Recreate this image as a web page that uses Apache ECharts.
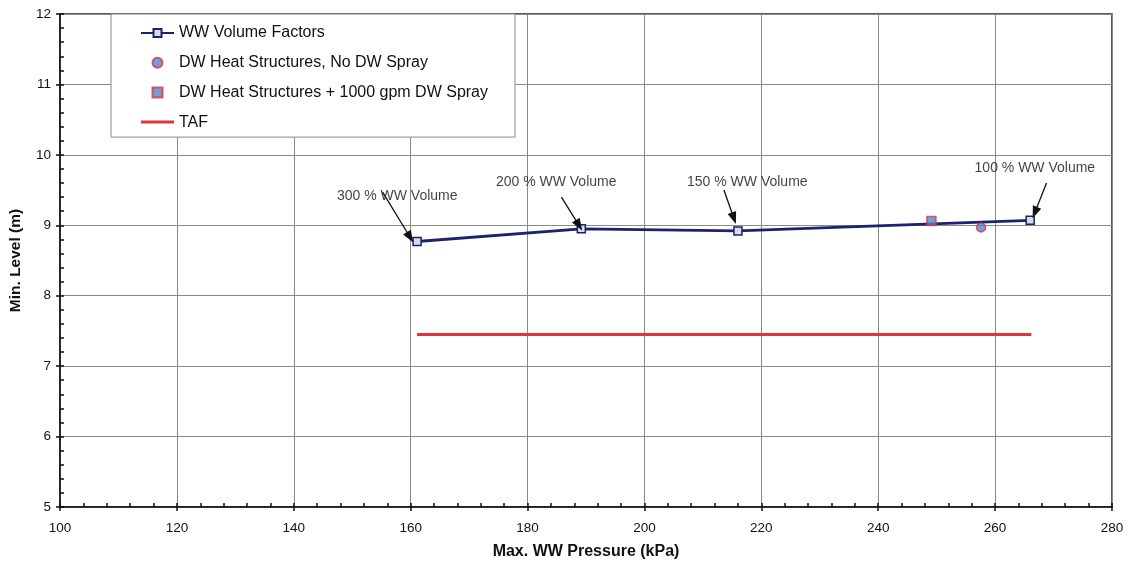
<!DOCTYPE html>
<html>
<head>
<meta charset="utf-8">
<script src="https://cdn.jsdelivr.net/npm/echarts@6/dist/echarts.min.js"></script>
<style>
  html, body { margin: 0; padding: 0; background: #fff; }
  #chart { width: 1128px; height: 566px; }
</style>
</head>
<body>
<div id="chart"></div>
<script>
// values
const wwPressure = [161.1, 189.2, 216.0, 266.0];
const wwLevel = [8.77, 8.95, 8.92, 9.07];
const noSprayPressure = [257.6];
const noSprayLevel = [8.97];
const sprayPressure = [249.1];
const sprayLevel = [9.06];
const tafPressure = [161.1, 266.2];
const tafLevel = [7.45, 7.45];

// annotations: text anchor and arrow (tail -> head), in data units
const noteText = ['300 % WW Volume', '200 % WW Volume', '150 % WW Volume', '100 % WW Volume'];
const noteX = [157.7, 184.9, 217.6, 266.8];
const noteY = [9.42, 9.615, 9.61, 9.81];
const arrowFromX = [155.2, 185.8, 213.6, 268.8];
const arrowFromY = [9.47, 9.40, 9.50, 9.60];
const arrowToX = [159.9, 188.8, 215.3, 266.8];
const arrowToY = [8.83, 9.00, 9.10, 9.18];

const xTicks = { min: 100, max: 280, interval: 20 };
const yTicks = { min: 5, max: 12, interval: 1 };

const font = 'Liberation Sans, Arial, sans-serif';
const navy = '#1c2170';
const zip = (a, b) => a.map((v, i) => [v, b[i]]);

const chart = echarts.init(document.getElementById('chart'));

// overlay axis: only outward major ticks (main axis draws inward ticks)
function tickAxis(t, pos) {
  return {
    type: 'value', ...t, position: pos,
    axisLine: { show: false }, axisLabel: { show: false }, splitLine: { show: false },
    axisTick: { show: true, inside: false, length: 4, lineStyle: { color: '#111', width: 1.5 } }
  };
}

chart.setOption({
  animation: false,
  textStyle: { fontFamily: font },
  grid: {
    left: 59, right: 16, top: 14, bottom: 59, show: true,
    borderColor: '#222', borderWidth: 1.5
  },
  legend: {
    orient: 'vertical', left: 111, top: 14,
    padding: [11, 27, 7, 29], itemGap: 13.7, itemWidth: 33, itemHeight: 10,
    backgroundColor: '#fff', borderColor: '#888', borderWidth: 1,
    textStyle: { fontFamily: font, fontSize: 16, color: '#111' },
    data: [
      { name: 'WW Volume Factors' },
      { name: 'DW Heat Structures, No DW Spray', icon: 'circle' },
      { name: 'DW Heat Structures + 1000 gpm DW Spray', icon: 'path://M0,0h10v10h-10z' },
      { name: 'TAF', icon: 'path://M0,0h33v3h-33z' }
    ]
  },
  xAxis: [{
    type: 'value', ...xTicks, position: 'bottom',
    name: 'Max. WW Pressure (kPa)', nameLocation: 'middle', nameGap: 37,
    nameTextStyle: { fontWeight: 'bold', fontSize: 16, color: '#111', fontFamily: font },
    axisLine: { lineStyle: { color: '#111', width: 1.5 } },
    axisTick: { show: true, inside: true, length: 4, lineStyle: { color: '#111', width: 1.5 } },
    minorTick: { show: true, splitNumber: 5, length: 4, lineStyle: { color: '#111', width: 1.5 } },
    axisLabel: { fontSize: 13.5, color: '#111', margin: 14, fontFamily: font },
    splitLine: { lineStyle: { color: '#8a8a8a', width: 1 } }
  }, tickAxis(xTicks, 'bottom')],
  yAxis: [{
    type: 'value', ...yTicks, position: 'left',
    name: 'Min. Level (m)', nameLocation: 'middle', nameGap: 36,
    nameTextStyle: { fontWeight: 'bold', fontSize: 15.5, color: '#111', fontFamily: font },
    axisLine: { lineStyle: { color: '#111', width: 1.5 } },
    axisTick: { show: true, inside: true, length: 4, lineStyle: { color: '#111', width: 1.5 } },
    minorTick: { show: true, splitNumber: 5, length: 4, lineStyle: { color: '#111', width: 1.5 } },
    axisLabel: { fontSize: 13.5, color: '#111', margin: 9, fontFamily: font },
    splitLine: { lineStyle: { color: '#8a8a8a', width: 1 } }
  }, tickAxis(yTicks, 'left')],
  series: [
    {
      name: 'TAF', type: 'line', data: zip(tafPressure, tafLevel),
      symbol: 'none', lineStyle: { color: '#e2323c', width: 3 },
      itemStyle: { color: '#e2323c' }, z: 2
    },
    {
      name: 'WW Volume Factors', type: 'line', data: zip(wwPressure, wwLevel),
      symbol: 'rect', symbolSize: 8,
      lineStyle: { color: navy, width: 2.8 },
      itemStyle: { color: '#d8dbe8', borderColor: navy, borderWidth: 1.5 }, z: 3
    },
    {
      name: 'DW Heat Structures, No DW Spray', type: 'scatter',
      data: zip(noSprayPressure, noSprayLevel), symbol: 'circle', symbolSize: 9,
      itemStyle: { color: '#4f86c6', borderColor: '#e0304a', borderWidth: 1.5 }, z: 4
    },
    {
      name: 'DW Heat Structures + 1000 gpm DW Spray', type: 'scatter',
      data: zip(sprayPressure, sprayLevel), symbol: 'rect', symbolSize: 9,
      symbolKeepAspect: true,
      itemStyle: { color: '#4f86c6', borderColor: '#e0304a', borderWidth: 1.5 }, z: 4
    },
    {
      name: 'notes', type: 'scatter', symbolSize: 1,
      itemStyle: { color: 'rgba(0,0,0,0)' },
      data: noteText.map((t, i) => ({ name: t, value: [noteX[i], noteY[i]] })),
      label: {
        show: true, position: 'inside', formatter: '{b}',
        fontSize: 14, color: '#111', fontFamily: font
      },
      markLine: {
        silent: true, symbol: ['none', 'triangle'], symbolSize: [9, 12],
        label: { show: false },
        lineStyle: { color: '#111', width: 1.3, type: 'solid' },
        data: arrowFromX.map((x, i) => [
          { coord: [x, arrowFromY[i]] },
          { coord: [arrowToX[i], arrowToY[i]] }
        ])
      },
      z: 5
    }
  ]
});
</script>
</body>
</html>
